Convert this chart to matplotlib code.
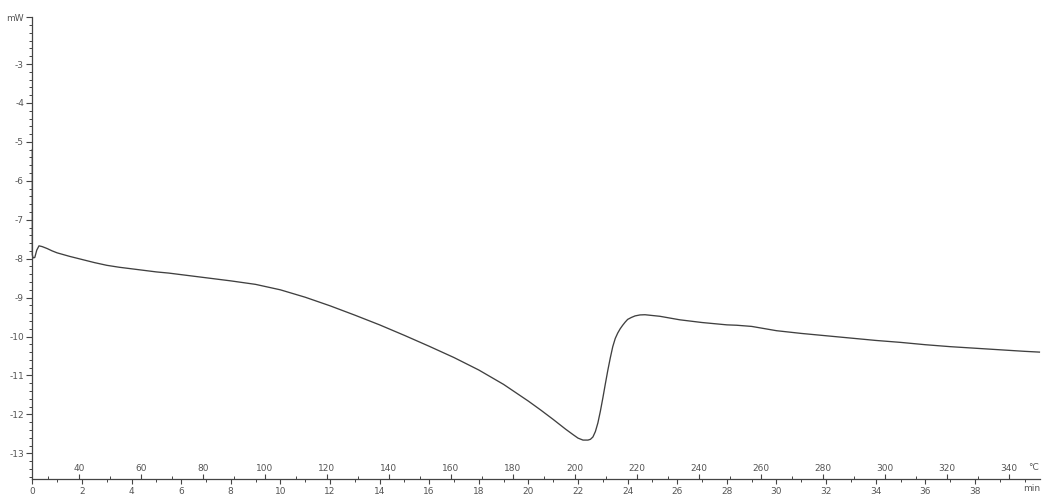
import numpy as np
import matplotlib
matplotlib.use("Agg")
import matplotlib.pyplot as plt
from matplotlib.ticker import MultipleLocator, FixedLocator

plt.rcParams["axes.unicode_minus"] = False
plt.rcParams["font.family"] = ["DejaVu Sans"]

# DSC curve: time in min, heat flow in mW
time_min = [0.00, 0.00, 0.03, 0.10, 0.18, 0.27, 0.40, 0.60, 0.80, 1.00,
            1.5, 2.0, 2.5, 3.0, 3.5, 4.0, 4.5, 5.0, 5.5, 6.0,
            6.5, 7.0, 8.0, 9.0, 10.0, 11.0, 12.0, 13.0, 14.0, 15.0,
            16.0, 17.0, 18.0, 19.0, 20.0, 20.5, 21.0, 21.5, 21.8, 22.0,
            22.2, 22.4, 22.5, 22.6, 22.7, 22.8, 22.9, 23.0, 23.1, 23.2,
            23.3, 23.4, 23.5, 23.6, 23.7, 23.8, 23.9, 24.0, 24.15, 24.3,
            24.5, 24.7, 25.0, 25.3, 26.1, 27.0, 28.0, 28.4, 29.0, 30.0,
            31.0, 32.0, 33.0, 34.0, 35.0, 36.0, 37.0, 38.0, 39.0, 40.0,
            40.6]
heat_flow = [-5.20, -7.90, -7.98, -7.97, -7.78, -7.67, -7.69, -7.74, -7.80, -7.85,
             -7.94, -8.02, -8.10, -8.17, -8.22, -8.26, -8.30, -8.34, -8.37, -8.41,
             -8.45, -8.49, -8.57, -8.66, -8.80, -8.99, -9.21, -9.45, -9.70, -9.97,
             -10.25, -10.54, -10.86, -11.23, -11.66, -11.89, -12.13, -12.38, -12.52, -12.61,
             -12.66, -12.66, -12.64, -12.58, -12.44, -12.22, -11.92, -11.58, -11.22, -10.87,
             -10.55, -10.26, -10.05, -9.91, -9.80, -9.71, -9.63, -9.56, -9.51, -9.47,
             -9.445, -9.44, -9.46, -9.48, -9.57, -9.64, -9.70, -9.71, -9.74, -9.85,
             -9.92, -9.98, -10.04, -10.10, -10.15, -10.21, -10.26, -10.30, -10.34, -10.38,
             -10.40]

# temperature program
start_temp = 25.0   # °C
heating_rate = 8.0  # K/min

y_major = [-3, -4, -5, -6, -7, -8, -9, -10, -11, -12, -13]
y_top = -1.8
temp_labels = list(range(40, 341, 20))
time_labels = list(range(0, 39, 2))

grey = "#555555"
axis_col = "#444444"
fig = plt.figure(figsize=(10.42, 4.95), dpi=100)
ax = fig.add_axes([0.031, 0.0323, 0.967, 0.9327])

ax.plot(time_min, heat_flow, color="#404040", lw=0.95, clip_on=False)

ax.set_xlim(0, 40.62)
ax.set_ylim(-13.66, y_top)

for s in ["top", "right"]:
    ax.spines[s].set_visible(False)
for s in ["left", "bottom"]:
    ax.spines[s].set_color(axis_col)
    ax.spines[s].set_linewidth(0.9)

# y axis: integer mW ticks, "mW" at the top
ax.yaxis.set_major_locator(FixedLocator([y_top] + y_major))
ax.set_yticklabels(["mW"] + [str(v) for v in y_major])
ax.yaxis.set_minor_locator(MultipleLocator(0.2))
ax.tick_params(axis="y", which="major", length=4, width=0.8, color=axis_col,
               labelsize=6.5, labelcolor=grey, pad=2)
ax.tick_params(axis="y", which="minor", length=2.5, width=0.7, color=axis_col)

# time ticks below the axis line
ax.xaxis.set_major_locator(FixedLocator(time_labels))
ax.xaxis.set_minor_locator(MultipleLocator(1))
ax.tick_params(axis="x", which="major", length=3.5, width=0.8, color=axis_col,
               labelsize=6.5, labelcolor=grey, pad=2)
ax.tick_params(axis="x", which="minor", length=2.5, width=0.7, color=axis_col)

# temperature ticks above the same line
sec = ax.secondary_xaxis(0.0, functions=(lambda t: start_temp + heating_rate * t,
                                         lambda T: (T - start_temp) / heating_rate))
sec.set_alignment("top")
sec.spines["top"].set_visible(False)
sec.xaxis.set_major_locator(FixedLocator(temp_labels))
sec.xaxis.set_minor_locator(MultipleLocator(10))
sec.tick_params(axis="x", which="major", direction="out", length=3.5, width=0.8,
                color=axis_col, labelsize=6.5, labelcolor=grey, pad=1)
sec.tick_params(axis="x", which="minor", direction="out", length=2.5, width=0.7,
                color=axis_col)

# unit labels at the right end of the axis
ax.annotate("°C", xy=(1.0, 0.0), xycoords="axes fraction", xytext=(-1, 8),
            textcoords="offset points", ha="right", va="center", fontsize=6.5, color=grey)
ax.annotate("min", xy=(1.0, 0.0), xycoords="axes fraction", xytext=(0, -7),
            textcoords="offset points", ha="right", va="center", fontsize=6.5, color=grey)

fig.savefig("out.png", dpi=100, facecolor="white")
